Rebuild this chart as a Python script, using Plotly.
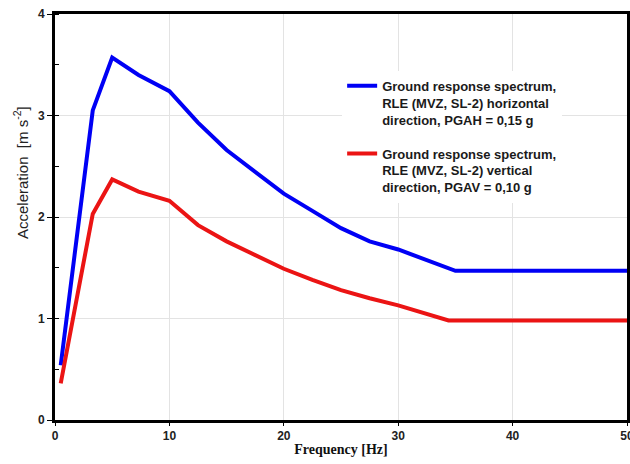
import plotly.graph_objects as go

freq_h = [0.5, 3.3, 5.0, 7.3, 10.0, 12.5, 15.0, 17.5, 20.0, 22.5, 25.0, 27.5, 30.0, 35.0, 50.0]
acc_h = [0.54, 3.05, 3.57, 3.40, 3.24, 2.93, 2.66, 2.44, 2.23, 2.06, 1.89, 1.76, 1.68, 1.47, 1.47]

freq_v = [0.5, 3.3, 5.0, 7.3, 10.0, 12.5, 15.0, 17.5, 20.0, 22.5, 25.0, 27.5, 30.0, 34.4, 50.0]
acc_v = [0.36, 2.03, 2.37, 2.25, 2.16, 1.92, 1.76, 1.63, 1.49, 1.38, 1.28, 1.20, 1.13, 0.98, 0.98]

name_h = "Ground response spectrum,<br>RLE (MVZ, SL-2) horizontal<br>direction, PGAH = 0,15 g"
name_v = "Ground response spectrum,<br>RLE (MVZ, SL-2) vertical<br>direction, PGAV = 0,10 g"

x_ticks = [0, 10, 20, 30, 40, 50]
y_ticks = [0, 1, 2, 3, 4]

fig = go.Figure()
fig.add_trace(go.Scatter(x=freq_h, y=acc_h, mode="lines", name=name_h, legendgroup="h",
                         line=dict(color="rgb(0,0,245)", width=4)))
fig.add_trace(go.Scatter(x=freq_v, y=acc_v, mode="lines", name=name_v, legendgroup="v",
                         line=dict(color="rgb(235,20,20)", width=4)))

fig.update_layout(
    width=630, height=464,
    margin=dict(l=55, r=3, t=14, b=44),
    paper_bgcolor="white", plot_bgcolor="white",
    showlegend=True,
    legend=dict(x=0.502, y=0.86, xanchor="left", yanchor="top",
                bgcolor="white", borderwidth=0, valign="top",
                tracegroupgap=14,
                font=dict(family="Liberation Sans, Arial", size=13, color="#1a1a1a", weight="bold")),
    xaxis=dict(range=[0, 50], tickvals=x_ticks, ticks="outside", ticklen=3,
               tickcolor="black", automargin=False, ticklabeloverflow="allow",
               showgrid=True, gridcolor="#e3e3e3", gridwidth=1, zeroline=False,
               showline=True, linecolor="black", linewidth=3, mirror=True,
               tickfont=dict(family="Liberation Sans, Arial", size=12, color="#222", weight="bold"),
               title=dict(text="Frequency [Hz]", standoff=2,
                          font=dict(family="Liberation Serif, Times New Roman", size=14,
                                    color="#111", weight="bold"))),
    yaxis=dict(range=[0, 4], tickvals=y_ticks, ticks="outside", ticklen=5,
               tickcolor="black", automargin=False,
               minor=dict(dtick=0.5, ticks="inside", ticklen=4, tickcolor="black", showgrid=False),
               showgrid=True, gridcolor="#e3e3e3", gridwidth=1, zeroline=False,
               showline=True, linecolor="black", linewidth=3, mirror=True,
               tickfont=dict(family="Liberation Sans, Arial", size=12, color="#222", weight="bold")),
    annotations=[dict(text="Acceleration  [m s<sup>-2</sup>]", textangle=-90,
                      xref="paper", yref="paper", x=-0.06, y=0.61,
                      xanchor="center", yanchor="middle", showarrow=False,
                      font=dict(family="Liberation Sans, Arial", size=15, color="#222"))],
)

fig.write_html("out.html", config={"displayModeBar": False},
               post_script="document.body.style.margin='0';")
